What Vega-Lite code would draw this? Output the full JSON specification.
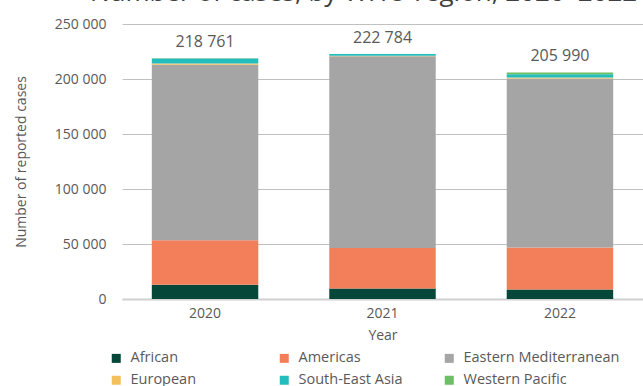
{
  "$schema": "https://vega.github.io/schema/vega-lite/v6.json",
  "autosize": {"type": "none"},
  "padding": {"left": 122, "top": 24, "right": 0, "bottom": 87},
  "width": 521,
  "height": 275,
  "background": "white",
  "title": {
    "text": "Number of cases, by WHO region, 2020–2022",
    "anchor": "start",
    "frame": "group",
    "orient": "top",
    "baseline": "alphabetic",
    "offset": -10,
    "dx": -32,
    "font": "Open Sans",
    "fontSize": 26,
    "fontWeight": "normal",
    "color": "#404040"
  },
  "config": {
    "locale": {"number": {"decimal": ".", "thousands": " ", "grouping": [3], "currency": ["", ""]}},
    "view": {"stroke": null},
    "font": "Open Sans"
  },
  "data": {
    "values": [
      {"Year": "2020", "Region": "African", "Cases": 13000},
      {"Year": "2020", "Region": "Americas", "Cases": 40500},
      {"Year": "2020", "Region": "Eastern Mediterranean", "Cases": 159500},
      {"Year": "2020", "Region": "European", "Cases": 1100},
      {"Year": "2020", "Region": "South-East Asia", "Cases": 4500},
      {"Year": "2020", "Region": "Western Pacific", "Cases": 161},
      {"Year": "2021", "Region": "African", "Cases": 9600},
      {"Year": "2021", "Region": "Americas", "Cases": 36700},
      {"Year": "2021", "Region": "Eastern Mediterranean", "Cases": 174400},
      {"Year": "2021", "Region": "European", "Cases": 400},
      {"Year": "2021", "Region": "South-East Asia", "Cases": 1600},
      {"Year": "2021", "Region": "Western Pacific", "Cases": 84},
      {"Year": "2022", "Region": "African", "Cases": 8700},
      {"Year": "2022", "Region": "Americas", "Cases": 38200},
      {"Year": "2022", "Region": "Eastern Mediterranean", "Cases": 153500},
      {"Year": "2022", "Region": "European", "Cases": 900},
      {"Year": "2022", "Region": "South-East Asia", "Cases": 3000},
      {"Year": "2022", "Region": "Western Pacific", "Cases": 1690}
    ]
  },
  "encoding": {
    "x": {
      "field": "Year",
      "type": "ordinal",
      "scale": {"paddingInner": 0.4, "paddingOuter": 0.168},
      "axis": {
        "title": "Year",
        "labelAngle": 0,
        "labelFontSize": 14,
        "labelColor": "#595959",
        "labelPadding": 7,
        "ticks": false,
        "domain": true,
        "domainColor": "#d0d0d0",
        "domainWidth": 2,
        "titleFontSize": 14,
        "titleFontWeight": "normal",
        "titleColor": "#595959",
        "titlePadding": 8
      }
    }
  },
  "layer": [
    {
      "mark": {"type": "bar"},
      "encoding": {
        "y": {
          "field": "Cases",
          "type": "quantitative",
          "stack": "zero",
          "scale": {"domain": [0, 250000], "nice": false},
          "axis": {
            "title": "Number of reported cases",
            "values": [0, 50000, 100000, 150000, 200000, 250000],
            "format": ",d",
            "labelFontSize": 14,
            "labelColor": "#595959",
            "labelPadding": 16,
            "ticks": false,
            "domain": false,
            "grid": true,
            "gridColor": "#c0c0c0",
            "gridWidth": 1,
            "titleFontSize": 14,
            "titleFontWeight": "normal",
            "titleColor": "#595959",
            "titlePadding": 26
          }
        },
        "order": {"field": "Region", "sort": "ascending"},
        "color": {
          "field": "Region",
          "type": "nominal",
          "scale": {
            "domain": ["African", "Americas", "Eastern Mediterranean", "European", "South-East Asia", "Western Pacific"],
            "range": ["#05483a", "#f37e5a", "#a5a5a5", "#f4c05b", "#24bdbd", "#6cbf64"]
          },
          "legend": {
            "title": null,
            "orient": "none",
            "legendX": -13,
            "legendY": 327,
            "direction": "horizontal",
            "columns": 3,
            "gridAlign": "each",
            "columnPadding": 39,
            "rowPadding": 7,
            "symbolType": "square",
            "symbolSize": 81,
            "symbolStrokeWidth": 0,
            "labelFontSize": 14.5,
            "labelColor": "#595959",
            "labelOffset": 7,
            "labelLimit": 300,
            "labelExpr": "datum.label === 'European' ? datum.label + '\u00a0\u00a0\u00a0\u00a0\u00a0\u00a0\u00a0\u00a0\u00a0\u00a0\u00a0\u200b' : datum.label"
          }
        }
      }
    },
    {
      "mark": {"type": "text", "dy": -16, "fontSize": 16, "color": "#595959"},
      "encoding": {
        "y": {"field": "Cases", "type": "quantitative", "aggregate": "sum"},
        "text": {"field": "Cases", "type": "quantitative", "aggregate": "sum", "format": ",d"}
      }
    }
  ]
}
